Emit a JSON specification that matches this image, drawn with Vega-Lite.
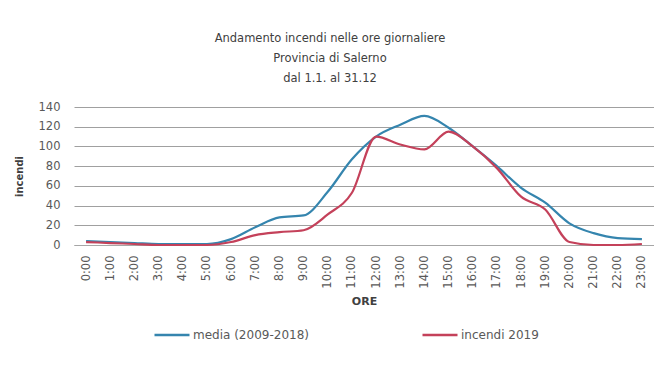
{
  "$schema": "https://vega.github.io/schema/vega-lite/v6.json",
  "width": 580,
  "height": 138,
  "autosize": "none",
  "padding": {"left": 74, "top": 107, "right": 0, "bottom": 124},
  "background": "white",
  "title": {
    "text": ["Andamento incendi nelle ore giornaliere", "Provincia di Salerno", "dal 1.1. al 31.12"],
    "anchor": "middle",
    "dx": -34,
    "offset": 17,
    "font": "DejaVu Sans",
    "fontSize": 11.5,
    "fontWeight": "normal",
    "lineHeight": 20,
    "color": "#404040"
  },
  "data": {
    "values": [
      {"ora": "0:00", "serie": "media (2009-2018)", "valore": 4},
      {"ora": "1:00", "serie": "media (2009-2018)", "valore": 3},
      {"ora": "2:00", "serie": "media (2009-2018)", "valore": 2},
      {"ora": "3:00", "serie": "media (2009-2018)", "valore": 1},
      {"ora": "4:00", "serie": "media (2009-2018)", "valore": 1},
      {"ora": "5:00", "serie": "media (2009-2018)", "valore": 1},
      {"ora": "6:00", "serie": "media (2009-2018)", "valore": 6},
      {"ora": "7:00", "serie": "media (2009-2018)", "valore": 18},
      {"ora": "8:00", "serie": "media (2009-2018)", "valore": 28},
      {"ora": "9:00", "serie": "media (2009-2018)", "valore": 30},
      {"ora": "10:00", "serie": "media (2009-2018)", "valore": 54},
      {"ora": "11:00", "serie": "media (2009-2018)", "valore": 87},
      {"ora": "12:00", "serie": "media (2009-2018)", "valore": 110},
      {"ora": "13:00", "serie": "media (2009-2018)", "valore": 122},
      {"ora": "14:00", "serie": "media (2009-2018)", "valore": 131},
      {"ora": "15:00", "serie": "media (2009-2018)", "valore": 119},
      {"ora": "16:00", "serie": "media (2009-2018)", "valore": 100},
      {"ora": "17:00", "serie": "media (2009-2018)", "valore": 80},
      {"ora": "18:00", "serie": "media (2009-2018)", "valore": 58},
      {"ora": "19:00", "serie": "media (2009-2018)", "valore": 43},
      {"ora": "20:00", "serie": "media (2009-2018)", "valore": 22},
      {"ora": "21:00", "serie": "media (2009-2018)", "valore": 12},
      {"ora": "22:00", "serie": "media (2009-2018)", "valore": 7},
      {"ora": "23:00", "serie": "media (2009-2018)", "valore": 6},
      {"ora": "0:00", "serie": "incendi 2019", "valore": 3},
      {"ora": "1:00", "serie": "incendi 2019", "valore": 2},
      {"ora": "2:00", "serie": "incendi 2019", "valore": 1},
      {"ora": "3:00", "serie": "incendi 2019", "valore": 0},
      {"ora": "4:00", "serie": "incendi 2019", "valore": 0},
      {"ora": "5:00", "serie": "incendi 2019", "valore": 0},
      {"ora": "6:00", "serie": "incendi 2019", "valore": 3},
      {"ora": "7:00", "serie": "incendi 2019", "valore": 10},
      {"ora": "8:00", "serie": "incendi 2019", "valore": 13},
      {"ora": "9:00", "serie": "incendi 2019", "valore": 15},
      {"ora": "10:00", "serie": "incendi 2019", "valore": 31},
      {"ora": "11:00", "serie": "incendi 2019", "valore": 53},
      {"ora": "12:00", "serie": "incendi 2019", "valore": 110},
      {"ora": "13:00", "serie": "incendi 2019", "valore": 102},
      {"ora": "14:00", "serie": "incendi 2019", "valore": 97},
      {"ora": "15:00", "serie": "incendi 2019", "valore": 115},
      {"ora": "16:00", "serie": "incendi 2019", "valore": 100},
      {"ora": "17:00", "serie": "incendi 2019", "valore": 78},
      {"ora": "18:00", "serie": "incendi 2019", "valore": 49},
      {"ora": "19:00", "serie": "incendi 2019", "valore": 36},
      {"ora": "20:00", "serie": "incendi 2019", "valore": 3},
      {"ora": "21:00", "serie": "incendi 2019", "valore": 0},
      {"ora": "22:00", "serie": "incendi 2019", "valore": 0},
      {"ora": "23:00", "serie": "incendi 2019", "valore": 1}
    ]
  },
  "mark": {"type": "line", "interpolate": "monotone", "strokeWidth": 2.2},
  "encoding": {
    "x": {
      "field": "ora",
      "type": "ordinal",
      "sort": null,
      "scale": {"type": "point", "padding": 0.5},
      "axis": {
        "title": "ORE",
        "titleFont": "DejaVu Sans",
        "titleFontSize": 11,
        "titleFontWeight": "bold",
        "titleColor": "#404040",
        "titlePadding": 7,
        "labelAngle": -90,
        "labelFont": "DejaVu Sans",
        "labelFontSize": 11.5,
        "labelColor": "#595959",
        "labelPadding": 10,
        "ticks": false,
        "domain": true,
        "domainColor": "#a6a6a6",
        "grid": false
      }
    },
    "y": {
      "field": "valore",
      "type": "quantitative",
      "scale": {"domain": [0, 140], "nice": false},
      "axis": {
        "title": "incendi",
        "titleFont": "DejaVu Sans",
        "titleFontSize": 10,
        "titleFontWeight": "bold",
        "titleColor": "#404040",
        "titlePadding": 14,
        "values": [0, 20, 40, 60, 80, 100, 120, 140],
        "labelFont": "DejaVu Sans",
        "labelFontSize": 11.5,
        "labelColor": "#595959",
        "labelPadding": 14,
        "ticks": false,
        "domain": false,
        "grid": true,
        "gridColor": "#a0a0a0",
        "gridWidth": 1
      }
    },
    "color": {
      "field": "serie",
      "type": "nominal",
      "scale": {"domain": ["media (2009-2018)", "incendi 2019"], "range": ["#3585ae", "#c4415a"]},
      "legend": {
        "title": null,
        "orient": "none",
        "direction": "horizontal",
        "legendX": 79,
        "legendY": 209,
        "symbolType": "stroke",
        "symbolSize": 1225,
        "symbolStrokeWidth": 2.5,
        "labelFont": "DejaVu Sans",
        "labelFontSize": 12,
        "labelColor": "#595959",
        "labelOffset": 2,
        "columnPadding": 108,
        "labelLimit": 300
      }
    }
  },
  "config": {"view": {"stroke": null}}
}
